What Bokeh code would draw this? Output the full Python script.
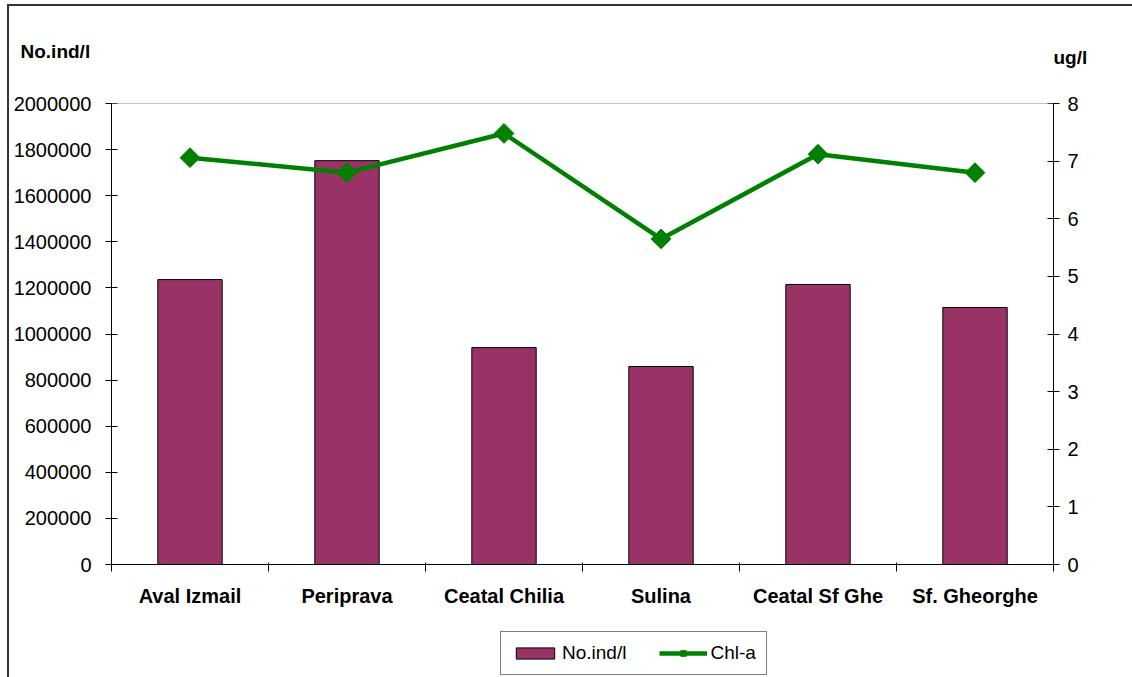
import numpy as np
from bokeh.plotting import figure
from bokeh.layouts import column
from bokeh.models import (Range1d, LinearAxis, FixedTicker, Span, Label, Legend, LegendItem,
                          ColumnDataSource)
from bokeh.embed import file_html
from bokeh.resources import INLINE

# ---- data ----
stations = ["Aval Izmail", "Periprava", "Ceatal Chilia", "Sulina", "Ceatal Sf Ghe", "Sf. Gheorghe"]
no_ind = [1236000, 1752000, 941000, 859000, 1215000, 1115000]
chl_a = [7.06, 6.80, 7.48, 5.65, 7.12, 6.80]
left_ticks = [0, 200000, 400000, 600000, 800000, 1000000, 1200000, 1400000, 1600000, 1800000, 2000000]
right_ticks = [0, 1, 2, 3, 4, 5, 6, 7, 8]
left_unit = "No.ind/l"
right_unit = "ug/l"
series_names = ["No.ind/l", "Chl-a"]

FONT = "Liberation Sans"
BAR_COLOR = "#993366"
LINE_COLOR = "#008000"
W = 1123


def strip(height):
    f = figure(width=W, height=height, output_backend="svg", toolbar_location=None,
               x_range=Range1d(0, W), y_range=Range1d(0, height),
               x_axis_type=None, y_axis_type=None, min_border=0)
    f.frame_align = False
    f.outline_line_color = None
    f.grid.visible = False
    f.border_fill_color = "white"
    f.background_fill_color = "white"
    return f


# ---- top strip with unit labels ----
top = strip(82)
top.add_layout(Label(x=11, y=37, text=left_unit, text_font=FONT, text_font_size="19px",
                     text_font_style="bold", text_baseline="middle", text_color="black"))
top.add_layout(Label(x=1044, y=31, text=right_unit, text_font=FONT, text_font_size="19px",
                     text_font_style="bold", text_baseline="middle", text_color="black"))

# ---- main chart ----
xc = [i + 0.5 for i in range(len(stations))]
src = ColumnDataSource(dict(x=xc, n=no_ind, c=chl_a))

p = figure(width=W, height=532, output_backend="svg", toolbar_location=None,
           x_range=Range1d(0, 6), y_range=Range1d(0, 2000000),
           min_border_left=102, min_border_right=79, min_border_top=15, min_border_bottom=56)
p.frame_align = False
p.outline_line_color = None
p.grid.visible = False
p.background_fill_color = "white"
p.border_fill_color = "white"
p.extra_y_ranges = {"chl": Range1d(0, 8)}

p.vbar(x="x", top="n", width=0.41, source=src, fill_color=BAR_COLOR,
       line_color="black", line_width=1)
p.line(x="x", y="c", source=src, line_color=LINE_COLOR, line_width=4.5, y_range_name="chl")
p.scatter(x="x", y="c", source=src, marker="square", angle=np.pi / 4, size=14,
          fill_color=LINE_COLOR, line_color=LINE_COLOR, y_range_name="chl")

p.add_layout(Span(location=2000000, dimension="width", line_color="#888888", line_width=1))

xa = p.xaxis[0]
xa.ticker = FixedTicker(ticks=xc, minor_ticks=list(range(len(stations) + 1)))
xa.major_label_overrides = {x: s for x, s in zip(xc, stations)}
xa.major_tick_line_color = None
xa.major_tick_out = 0
xa.minor_tick_in = 2
xa.minor_tick_out = 7
xa.minor_tick_line_color = "black"
xa.axis_line_color = "black"
xa.major_label_standoff = 13
xa.major_label_text_font = FONT
xa.major_label_text_font_style = "bold"
xa.major_label_text_font_size = "20px"
xa.major_label_text_color = "black"

ya = p.yaxis[0]
ya.ticker = FixedTicker(ticks=left_ticks)
ya.formatter.use_scientific = False
ya.major_tick_in = 6
ya.major_tick_out = 6
ya.minor_tick_line_color = None
ya.axis_line_color = "black"
ya.major_tick_line_color = "black"
ya.major_label_standoff = 14
ya.major_label_text_font = FONT
ya.major_label_text_font_size = "20px"
ya.major_label_text_color = "black"

ra = LinearAxis(y_range_name="chl", ticker=FixedTicker(ticks=right_ticks))
ra.major_tick_in = 6
ra.major_tick_out = 6
ra.minor_tick_line_color = None
ra.axis_line_color = "black"
ra.major_tick_line_color = "black"
ra.major_label_standoff = 8
ra.major_label_text_font = FONT
ra.major_label_text_font_size = "20px"
ra.major_label_text_color = "black"
p.add_layout(ra, "right")

# ---- bottom strip with legend (renderers hold one point outside the view) ----
bot = strip(57)
offscreen = ColumnDataSource(dict(x=[-1000], y=[-1000]))
lb = bot.vbar(x="x", top="y", width=1, source=offscreen, fill_color=BAR_COLOR,
              line_color="black", line_width=1)
ll = bot.line(x="x", y="y", source=offscreen, line_color=LINE_COLOR, line_width=4.5)
lm = bot.scatter(x="x", y="y", source=offscreen, marker="square", angle=np.pi / 4, size=13,
                 fill_color=LINE_COLOR, line_color=LINE_COLOR)
legend = Legend(items=[LegendItem(label=series_names[0], renderers=[lb]),
                       LegendItem(label=series_names[1], renderers=[ll, lm])],
                orientation="horizontal", location=(491, 2),
                label_text_font=FONT, label_text_font_size="19px", label_text_color="black",
                glyph_width=48, glyph_height=14, label_standoff=3, spacing=33, padding=10, margin=0,
                border_line_color="black", border_line_width=1, background_fill_alpha=1)
bot.add_layout(legend, "center")

layout = column(top, p, bot, spacing=0)
layout.margin = (4, 0, 0, 7)
layout.styles = {"border-top": "2px solid #333", "border-left": "2px solid #333"}

open("out.html", "w").write(file_html(layout, INLINE))
